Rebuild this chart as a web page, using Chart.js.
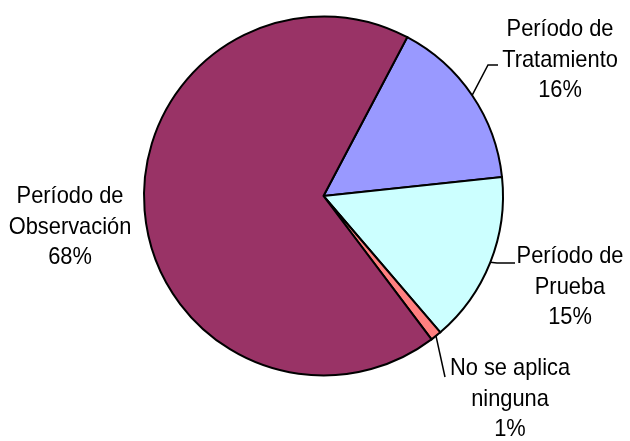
<!DOCTYPE html>
<html>
<head>
<meta charset="utf-8">
<script src="https://cdn.jsdelivr.net/npm/chart.js@4.4.1/dist/chart.umd.min.js"></script>
<style>
  html, body { margin: 0; padding: 0; background: #fff; }
  #wrap { width: 630px; height: 441px; }
</style>
</head>
<body>
<div id="wrap"><canvas id="pie" width="630" height="441"></canvas></div>
<script>
// Chart data
const labels = [
  ['Período de', 'Tratamiento'],
  ['Período de', 'Prueba'],
  ['No se aplica', 'ninguna'],
  ['Período de', 'Observación']
];
const shares = [15.6, 15.4, 1.0, 68.0];
const colors = ['#9999FF', '#CCFFFF', '#FF8080', '#993366'];

// where each label sits: text centre x, first baseline y, and leader points (if any)
const labelLayout = [
  { x: 560, y: 36, leader: [[488, 65], [498, 65]] },
  { x: 570, y: 263, leader: [[497, 263], [515, 263]] },
  { x: 510, y: 375, leader: [[445, 377]] },
  { x: 70, y: 203, leader: null }
];

const FONT = '24px "Liberation Sans", Arial, sans-serif';
const SQUEEZE = 0.91; // the original labels use a narrow face
const LINE_H = 30.5;

const pieLabels = {
  id: 'pieLabels',
  afterDraw(chart) {
    const ctx = chart.ctx;
    const arcs = chart.getDatasetMeta(0).data;
    const total = shares.reduce((a, b) => a + b, 0);
    ctx.save();
    ctx.font = FONT;
    ctx.fillStyle = '#000';
    ctx.textAlign = 'center';
    ctx.textBaseline = 'alphabetic';
    ctx.strokeStyle = '#000';
    ctx.lineWidth = 1.5;

    arcs.forEach((arc, i) => {
      const lay = labelLayout[i];
      const { x, y, startAngle, endAngle, outerRadius } = arc.getProps(['x', 'y', 'startAngle', 'endAngle', 'outerRadius'], true);
      if (lay.leader) {
        const mid = (startAngle + endAngle) / 2;
        ctx.beginPath();
        ctx.moveTo(x + Math.cos(mid) * outerRadius, y + Math.sin(mid) * outerRadius);
        lay.leader.forEach(p => ctx.lineTo(p[0], p[1]));
        ctx.stroke();
      }
      const pct = Math.round(shares[i] / total * 100) + '%';
      const lines = labels[i].concat([pct]);
      lines.forEach((t, k) => {
        ctx.save();
        ctx.translate(lay.x, lay.y + k * LINE_H);
        ctx.scale(SQUEEZE, 1);
        ctx.fillText(t, 0, 0);
        ctx.restore();
      });
    });
    ctx.restore();
  }
};

new Chart(document.getElementById('pie'), {
  type: 'pie',
  data: {
    labels: labels.map(l => l.join(' ')),
    datasets: [{
      data: shares,
      backgroundColor: colors,
      borderColor: '#000',
      borderWidth: 2,
      borderJoinStyle: 'miter'
    }]
  },
  options: {
    responsive: false,
    animation: false,
    rotation: 27.8,
    layout: { padding: { top: 15, bottom: 64, left: 143, right: 126 } },
    plugins: {
      legend: { display: false },
      tooltip: { enabled: false }
    }
  },
  plugins: [pieLabels]
});
</script>
</body>
</html>
